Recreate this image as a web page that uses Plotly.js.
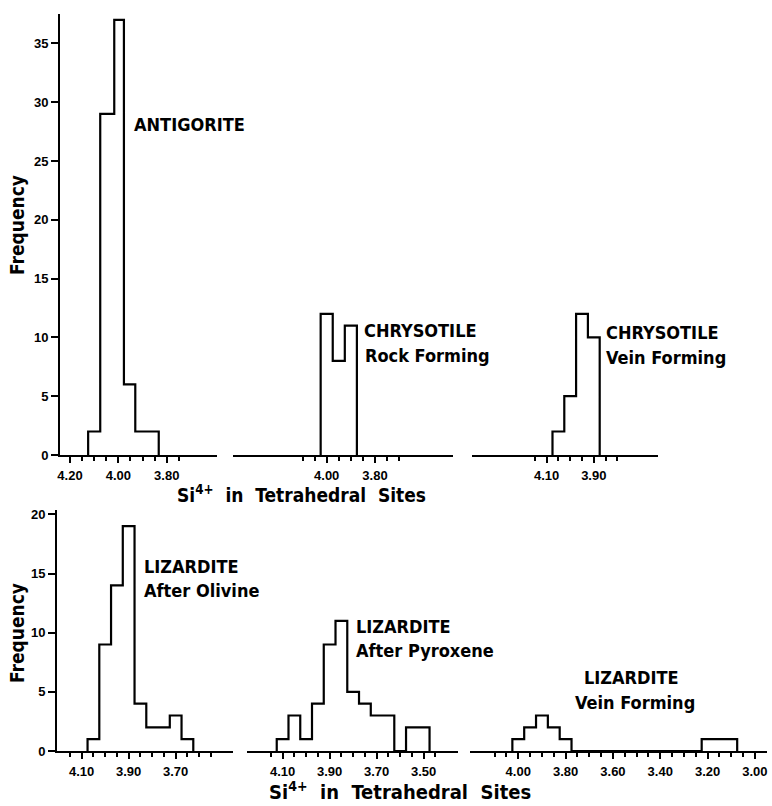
<!DOCTYPE html>
<html><head><meta charset="utf-8">
<script src="https://cdn.plot.ly/plotly-3.0.1.min.js"></script>
<style>html,body{margin:0;padding:0;background:#fff}</style>
</head><body><div id="chart" style="width:772px;height:806px"></div>
<script>
// ---------- DATA (Si4+ bin edges, frequencies) ----------
const antigoriteEdges  = [4.125, 4.075, 4.017, 3.977, 3.930, 3.833];
const antigoriteCounts = [2, 29, 37, 6, 2];
const chrysRockEdges   = [4.025, 3.975, 3.925, 3.875];
const chrysRockCounts  = [12, 8, 11];
const chrysVeinEdges   = [4.075, 4.025, 3.975, 3.925, 3.875];
const chrysVeinCounts  = [2, 5, 12, 10];
const lizOlivineEdges  = [4.075, 4.025, 3.975, 3.925, 3.875, 3.825, 3.775, 3.725, 3.675, 3.625];
const lizOlivineCounts = [1, 9, 14, 19, 4, 2, 2, 3, 1];
const lizPyroxEdges    = [4.125, 4.075, 4.025, 3.975, 3.925, 3.875, 3.825, 3.775, 3.725, 3.625, 3.575, 3.475];
const lizPyroxCounts   = [1, 3, 1, 4, 9, 11, 5, 4, 3, 0, 2];
const lizVeinEdges     = [4.025, 3.975, 3.925, 3.875, 3.825, 3.775, 3.225, 3.075];
const lizVeinCounts    = [1, 2, 3, 2, 1, 0, 1];

// ---------- TICKS ----------
const topYTicks    = [0, 5, 10, 15, 20, 25, 30, 35];
const bottomYTicks = [0, 5, 10, 15, 20];
const p1Major = ['4.20', '4.00', '3.80'];
const p1Minor = [4.15, 4.10, 4.05, 3.95, 3.90, 3.85, 3.75];
const p2Major = ['4.00', '3.80'];
const p2Minor = [4.10, 4.05, 3.95, 3.90, 3.85, 3.75, 3.70];
const p3Major = ['4.10', '3.90'];
const p3Minor = [4.15, 4.05, 4.00, 3.95, 3.85, 3.80];
const p4Major = ['4.10', '3.90', '3.70'];
const p4Minor = [4.15, 4.05, 4.00, 3.95, 3.85, 3.80, 3.75, 3.65, 3.60, 3.55];
const p5Major = ['4.10', '3.90', '3.70', '3.50'];
const p5Minor = [4.15, 4.05, 4.00, 3.95, 3.85, 3.80, 3.75, 3.65, 3.60, 3.55, 3.45];
const p6Major = ['4.00', '3.80', '3.60', '3.40', '3.20', '3.00'];
const p6Minor = [4.10, 4.05, 3.95, 3.90, 3.85, 3.75, 3.70, 3.65, 3.55, 3.50, 3.45, 3.35, 3.30, 3.25, 3.15, 3.10, 3.05];

// ---------- LAYOUT HELPERS ----------
const W = 772, H = 806;
const fx = px => px / W;
const fy = py => 1 - py / H;
const LABEL_FONT = {family: "'Liberation Sans Narrow', 'DejaVu Sans Condensed', 'Liberation Sans', sans-serif", size: 18, color: '#000', weight: 700};
const TICK_FONT = {family: "'Liberation Sans', Arial, sans-serif", size: 13, color: '#000', weight: 700};

function steps(edges, counts) {
  const x = [edges[0]], y = [0];
  for (let i = 0; i < counts.length; i++) {
    x.push(edges[i], edges[i + 1]);
    y.push(counts[i], counts[i]);
  }
  x.push(edges[edges.length - 1]); y.push(0);
  return {x, y};
}

function hist(edges, counts, xa, ya) {
  const s = steps(edges, counts);
  return {type: 'scatter', mode: 'lines', x: s.x, y: s.y, xaxis: xa, yaxis: ya,
          line: {color: '#000', width: 2.2}, hoverinfo: 'skip', showlegend: false, cliponaxis: false};
}

function xAxis(pxL, pxR, range, major, minor, anchor) {
  return {
    domain: [fx(pxL), fx(pxR)], range: range, anchor: anchor,
    showline: true, linecolor: '#000', linewidth: 2, showgrid: false, zeroline: false,
    ticks: 'outside', ticklen: 6, tickwidth: 2, tickcolor: '#000', ticklabelstandoff: 1,
    tickmode: 'array', tickvals: major.map(Number), ticktext: major, tickfont: TICK_FONT,
    minor: {tickmode: 'array', tickvals: minor, ticks: 'outside', ticklen: 4, tickwidth: 2, tickcolor: '#000', showgrid: false},
    fixedrange: true
  };
}
function yAxis(pyB, pyT, range, anchor, ticks, visible) {
  const a = {domain: [fy(pyB), fy(pyT)], range: range, anchor: anchor, fixedrange: true,
             showgrid: false, zeroline: false};
  if (!visible) { a.visible = false; return a; }
  Object.assign(a, {showline: true, linecolor: '#000', linewidth: 2, ticks: 'outside', ticklen: 7,
    tickwidth: 2, tickcolor: '#000', tickmode: 'array', tickvals: ticks, tickfont: TICK_FONT});
  return a;
}

const data = [
  hist(antigoriteEdges, antigoriteCounts, 'x', 'y'),
  hist(chrysRockEdges, chrysRockCounts, 'x2', 'y2'),
  hist(chrysVeinEdges, chrysVeinCounts, 'x3', 'y3'),
  hist(lizOlivineEdges, lizOlivineCounts, 'x4', 'y4'),
  hist(lizPyroxEdges, lizPyroxCounts, 'x5', 'y5'),
  hist(lizVeinEdges, lizVeinCounts, 'x6', 'y6')
];

function ann(text, px, py, xanchor, extra) {
  return Object.assign({text: text, xref: 'paper', yref: 'paper', x: fx(px), y: fy(py),
    xanchor: xanchor, yanchor: 'middle', showarrow: false, borderpad: 0, font: LABEL_FONT}, extra || {});
}
const TITLE_FONT = Object.assign({}, LABEL_FONT, {size: 19});

const layout = {
  width: W, height: H, margin: {l: 0, r: 0, t: 0, b: 0},
  paper_bgcolor: '#fff', plot_bgcolor: 'rgba(0,0,0,0)', showlegend: false,
  xaxis:  xAxis(60, 217, [4.2414, 3.592], p1Major, p1Minor, 'y'),
  xaxis2: xAxis(233, 453, [4.388, 3.477], p2Major, p2Minor, 'y2'),
  xaxis3: xAxis(472, 658, [4.416, 3.628], p3Major, p3Minor, 'y3'),
  xaxis4: xAxis(57, 233, [4.205, 3.456], p4Major, p4Minor, 'y4'),
  xaxis5: xAxis(247, 458, [4.2515, 3.354], p5Major, p5Minor, 'y5'),
  xaxis6: xAxis(470, 767, [4.204, 2.949], p6Major, p6Minor, 'y6'),
  yaxis:  yAxis(455, 14, [0, 37.5], 'x', topYTicks, true),
  yaxis2: yAxis(455, 14, [0, 37.5], 'x2', null, false),
  yaxis3: yAxis(455, 14, [0, 37.5], 'x3', null, false),
  yaxis4: yAxis(751, 510, [0, 20.37], 'x4', bottomYTicks, true),
  yaxis5: yAxis(751, 510, [0, 20.37], 'x5', null, false),
  yaxis6: yAxis(751, 510, [0, 20.37], 'x6', null, false),
  annotations: [
    ann('ANTIGORITE', 133, 124, 'left'),
    ann('CHRYSOTILE', 363, 330, 'left'),
    ann('Rock Forming', 364, 355, 'left'),
    ann('CHRYSOTILE', 605, 332, 'left'),
    ann('Vein Forming', 605, 357, 'left'),
    ann('LIZARDITE', 143, 566, 'left'),
    ann('After Olivine', 143, 590, 'left'),
    ann('LIZARDITE', 355, 626, 'left'),
    ann('After Pyroxene', 355, 650, 'left'),
    ann('LIZARDITE', 631, 677, 'center'),
    ann('Vein Forming', 635, 702, 'center'),
    ann('Si<sup>4+</sup>\u00a0 in\u00a0 Tetrahedral\u00a0 Sites', 301, 494, 'center', {font: TITLE_FONT}),
    ann('Si<sup>4+</sup>\u00a0 in\u00a0 Tetrahedral\u00a0 Sites', 400, 791, 'center', {font: Object.assign({}, LABEL_FONT, {size: 20})}),
    ann('Frequency', 17, 225, 'center', {textangle: -90, font: TITLE_FONT}),
    ann('Frequency', 17, 633, 'center', {textangle: -90, font: TITLE_FONT})
  ]
};

Plotly.newPlot('chart', data, layout, {staticPlot: true, displayModeBar: false});
</script>
</body></html>
